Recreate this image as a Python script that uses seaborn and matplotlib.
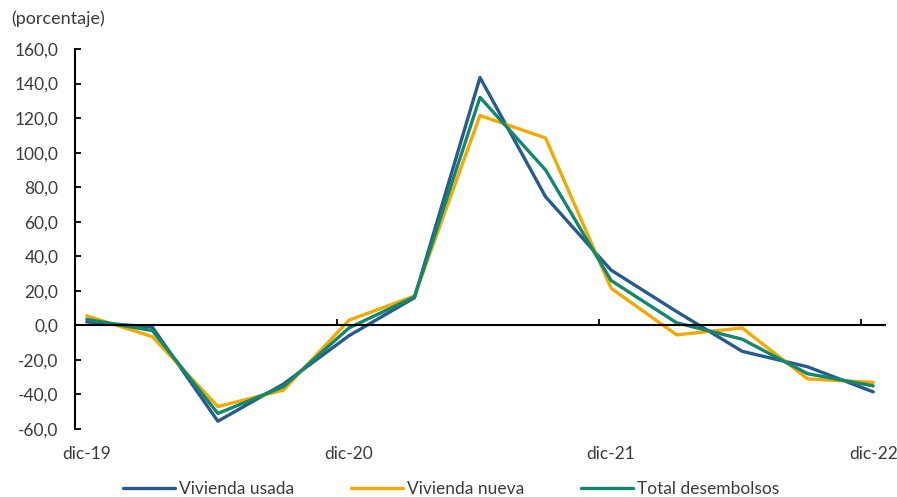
import matplotlib
matplotlib.use("Agg")
import matplotlib.pyplot as plt
import pandas as pd
import seaborn as sns

# quarterly growth, dic-19 .. dic-22
quarters = ["dic-19", "mar-20", "jun-20", "sep-20", "dic-20", "mar-21", "jun-21",
            "sep-21", "dic-21", "mar-22", "jun-22", "sep-22", "dic-22"]
vivienda_usada = [2.0, -1.0, -55.5, -34.0, -6.0, 16.0, 143.5, 74.5, 32.0, 8.0, -15.0, -24.0, -38.5]
vivienda_nueva = [5.5, -6.5, -47.0, -37.5, 3.0, 17.0, 121.5, 108.5, 21.5, -5.5, -1.5, -31.0, -33.0]
total_desembolsos = [3.5, -3.0, -51.0, -35.5, -1.5, 16.5, 132.0, 90.0, 26.0, 1.5, -8.0, -28.0, -35.0]
series_names = ["Vivienda usada", "Vivienda nueva", "Total desembolsos"]
label_quarters = ["dic-19", "dic-20", "dic-21", "dic-22"]
y_ticks = list(range(-60, 161, 20))

colors = ["#285B8C", "#F2A900", "#11886E"]
text_color = "#3b3b3b"
tick_shift = 0.18
fs = 12.5

rows = []
for name, values in zip(series_names, [vivienda_usada, vivienda_nueva, total_desembolsos]):
    for i, (q, v) in enumerate(zip(quarters, values)):
        rows.append({"idx": i, "quarter": q, "serie": name, "valor": v})
df = pd.DataFrame(rows)

sns.set_theme(style="white")
plt.rcParams["font.family"] = ["Lato", "DejaVu Sans"]

fig = plt.figure(figsize=(8.97, 4.97), dpi=100)
ax = fig.add_axes([0.0836, 0.1368, 0.9030, 0.7646])

sns.lineplot(data=df, x="idx", y="valor", hue="serie", hue_order=series_names,
             palette=colors, linewidth=2.4, ax=ax, legend=True)

ax.set_xlim(-tick_shift, len(quarters) - 1 + tick_shift)
ax.set_ylim(-60, 160)
ax.set_yticks(y_ticks)
ax.set_yticklabels([f"{v:.1f}".replace(".", ",") for v in y_ticks], fontsize=fs, color=text_color)
ax.tick_params(axis="y", direction="in", length=4, width=1.3, color="black", pad=12, left=True)

# horizontal axis crosses at zero, labels kept at the bottom
ax.spines["bottom"].set_position(("data", 0))
for s in ["top", "right"]:
    ax.spines[s].set_visible(False)
for s in ["left", "bottom"]:
    ax.spines[s].set_color("black")
    ax.spines[s].set_linewidth(1.5)
label_pos = [quarters.index(q) for q in label_quarters]
ax.set_xticks([p - tick_shift for p in label_pos])
ax.set_xticklabels([])
ax.tick_params(axis="x", direction="in", length=4, width=1.3, color="black", bottom=True)
ax.set_xlabel("")
ax.set_ylabel("")

sec = ax.secondary_xaxis("bottom")
sec.set_xticks(label_pos, labels=label_quarters)
sec.tick_params(length=0, labelsize=fs, labelcolor=text_color, pad=12)
sec.spines["bottom"].set_visible(False)

fig.text(0.013, 0.962, "(porcentaje)", fontsize=13, color=text_color, va="center")

handles, labels = ax.get_legend_handles_labels()
ax.legend_.remove()
fig.legend(handles, labels, loc="lower center", bbox_to_anchor=(0.503, -0.032), ncol=3,
           frameon=False, fontsize=fs, handlelength=3.0, handletextpad=0.2,
           columnspacing=3.3, labelcolor=text_color)

fig.savefig("out.png", dpi=100)
